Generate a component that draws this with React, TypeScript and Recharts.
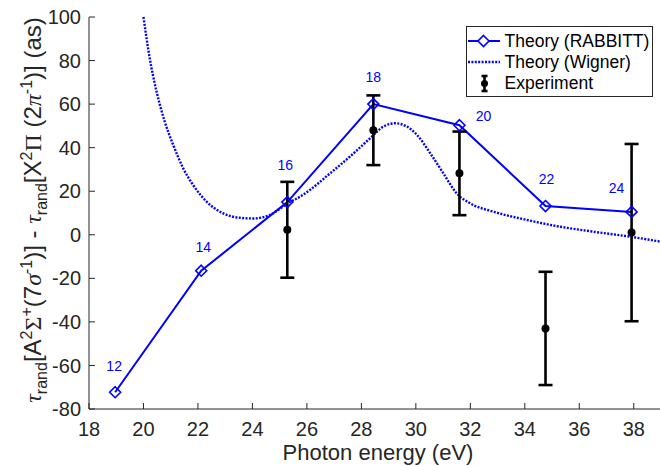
import React from "react";
import {
  ComposedChart,
  Line,
  Scatter,
  ErrorBar,
  XAxis,
  YAxis,
  Legend,
  LabelList,
} from "recharts";

// harmonic sidebands, photon energy in eV
const photonEnergy = [18.96, 22.12, 25.28, 28.44, 31.6, 34.76, 37.92];
const harmonicOrder = [12, 14, 16, 18, 20, 22, 24];
const rabbittDelay = [-72.3, -16.5, 15, 60, 50.3, 13.2, 10.5];

const expEnergy = [25.28, 28.44, 31.6, 34.76, 37.92];
const expDelay = [2.3, 48, 28.2, -43, 1];
const expError = [22, 16, 19.2, 26, 40.7];

const wignerEnergy = [
  20.0, 20.23, 20.48, 20.78, 21.09, 21.46, 21.82, 22.32, 22.93, 23.54, 24.03,
  24.64, 25.3, 25.75, 26.11, 26.85, 27.58, 28.32, 28.81, 29.24, 29.67, 30.04,
  30.53, 31.01, 31.5, 32.0, 32.85, 34.08, 35.3, 36.53, 37.88, 39.0,
];
const wignerDelay = [
  100, 81, 65.8, 52, 41.3, 30.5, 22.9, 15.2, 9.8, 7.8, 7.5, 9.1, 14.5, 17.5,
  20.6, 28.2, 35.9, 44.3, 49.7, 51.2, 49.7, 45.9, 37.4, 28.2, 19, 14.4, 10.6,
  6.8, 3.7, 1.4, -0.9, -3.2,
];

const xTicks = [18, 20, 22, 24, 26, 28, 30, 32, 34, 36, 38];
const yTicks = [-80, -60, -40, -20, 0, 20, 40, 60, 80, 100];

const seriesNames = ["Theory (RABBITT)", "Theory (Wigner)", "Experiment"];

// where each harmonic number sits relative to its marker
const labelShift = [
  [-1, -26],
  [2, -24],
  [-2, -37],
  [0, -27],
  [24, -9],
  [1, -27],
  [-15, -24],
];

const rabbitt = photonEnergy.map((x, i) => ({ x, y: rabbittDelay[i], h: harmonicOrder[i] }));
const experiment = expEnergy.map((x, i) => ({ x, y: expDelay[i], err: expError[i] }));
const wigner = wignerEnergy.map((x, i) => ({ x, y: wignerDelay[i] }));

const FONT = "'Liberation Sans', Arial, Helvetica, sans-serif";
const SERIF = "'Liberation Serif', 'DejaVu Serif', serif";
const AXIS = "#262626";
const BLUE = "#0000ff";

const Diamond = (props: any) => {
  const { cx, cy } = props;
  if (cx == null || cy == null) return null;
  const s = 5.5;
  return (
    <polygon
      key={`d-${cx}`}
      points={`${cx},${cy - s} ${cx + s},${cy} ${cx},${cy + s} ${cx - s},${cy}`}
      fill="none"
      stroke={BLUE}
      strokeWidth={1.6}
    />
  );
};

const HarmonicLabel = (props: any) => {
  const { x, y, index, value } = props;
  const [dx, dy] = labelShift[index] || [0, -25];
  return (
    <text
      x={x + dx}
      y={y + dy + 5}
      textAnchor="middle"
      fontSize={14}
      fontFamily={FONT}
      fill={BLUE}
    >
      {value}
    </text>
  );
};

const YTitle = () => {
  const sup = { fontSize: 16 };
  return (
    <text
      x={41}
      y={210}
      transform="rotate(-90 41 210)"
      textAnchor="middle"
      fontSize={24}
      fontFamily={FONT}
      fill={AXIS}
    >
      <tspan fontFamily={SERIF} fontStyle="italic">τ</tspan>
      <tspan {...sup} dy={6}>rand</tspan>
      <tspan dy={-6}>[A</tspan>
      <tspan {...sup} dy={-9}>2</tspan>
      <tspan fontFamily={SERIF} dy={9}>Σ</tspan>
      <tspan {...sup} dy={-9}>+</tspan>
      <tspan dy={9}>(7</tspan>
      <tspan fontFamily={SERIF} fontStyle="italic">σ</tspan>
      <tspan {...sup} dy={-9}>-1</tspan>
      <tspan dy={9}>)] - </tspan>
      <tspan fontFamily={SERIF} fontStyle="italic">τ</tspan>
      <tspan {...sup} dy={6}>rand</tspan>
      <tspan dy={-6}>[X</tspan>
      <tspan {...sup} dy={-9}>2</tspan>
      <tspan fontFamily={SERIF} dy={9}>Π</tspan>
      <tspan> (2</tspan>
      <tspan fontFamily={SERIF} fontStyle="italic">π</tspan>
      <tspan {...sup} dy={-9}>-1</tspan>
      <tspan dy={9}>)] (as)</tspan>
    </text>
  );
};

const LegendBox = () => (
  <svg width={188} height={72} style={{ display: "block" }}>
    <rect x={0.5} y={0.5} width={186} height={70} fill="#fff" stroke={AXIS} strokeWidth={1} />
    <g fontFamily={FONT} fontSize={17.5} fill="#000">
      <line x1={2} x2={34} y1={15} y2={15} stroke={BLUE} strokeWidth={2} />
      <polygon points="17.5,9.5 23,15 17.5,20.5 12,15" fill="#fff" stroke={BLUE} strokeWidth={1.6} />
      <text x={38.5} y={21}>{seriesNames[0]}</text>
      <line x1={2} x2={34} y1={36} y2={36} stroke={BLUE} strokeWidth={2.4} strokeDasharray="2 1.4" />
      <text x={38.5} y={42}>{seriesNames[1]}</text>
      <line x1={18.5} x2={18.5} y1={50} y2={65} stroke="#000" strokeWidth={2.6} />
      <line x1={15.5} x2={21.5} y1={50} y2={50} stroke="#000" strokeWidth={2.6} />
      <line x1={15.5} x2={21.5} y1={65} y2={65} stroke="#000" strokeWidth={2.6} />
      <circle cx={18.5} cy={57.5} r={3.5} fill="#000" />
      <text x={38.5} y={63}>{seriesNames[2]}</text>
    </g>
  </svg>
);

export default function App() {
  return (
    <div style={{ position: "absolute", left: 0, top: 0, background: "#fff" }}>
      <ComposedChart
        width={660}
        height={466}
        margin={{ top: 17, right: -1, bottom: 0, left: 0 }}
      >
        <XAxis
          dataKey="x"
          type="number"
          domain={[18, 39]}
          ticks={xTicks}
          height={57}
          stroke={AXIS}
          tickSize={-6}
          tickMargin={19}
          tick={{ fill: AXIS, fontSize: 20, fontFamily: FONT }}
          label={{
            value: "Photon energy (eV)",
            position: "insideBottom",
            offset: 6,
            fill: AXIS,
            fontSize: 22,
            fontFamily: FONT,
            dx: 3,
          }}
        />
        <XAxis
          xAxisId="top"
          orientation="top"
          type="number"
          domain={[18, 39]}
          ticks={xTicks}
          height={0}
          stroke={AXIS}
          tickSize={-6}
          tickFormatter={() => ""}
        />
        <YAxis
          dataKey="y"
          type="number"
          domain={[-80, 100]}
          ticks={yTicks}
          width={89}
          stroke={AXIS}
          tickSize={-6}
          tickMargin={14}
          tick={{ fill: AXIS, fontSize: 20, fontFamily: FONT }}
          label={<YTitle />}
        />
        <YAxis
          yAxisId="right"
          orientation="right"
          type="number"
          domain={[-80, 100]}
          ticks={yTicks}
          width={0}
          stroke={AXIS}
          tickSize={-6}
          tickFormatter={() => ""}
        />
        <Legend
          layout="horizontal"
          verticalAlign="middle"
          align="center"
          content={() => <LegendBox />}
          wrapperStyle={{ left: 466, top: 26, width: 188, height: 72 }}
        />
        <Line
          data={wigner}
          dataKey="y"
          type="monotone"
          stroke={BLUE}
          strokeWidth={2.4}
          strokeDasharray="2 1.4"
          dot={false}
          activeDot={false}
          isAnimationActive={false}
          name={seriesNames[1]}
        />
        <Line
          data={rabbitt}
          dataKey="y"
          type="linear"
          stroke={BLUE}
          strokeWidth={2}
          dot={<Diamond />}
          activeDot={false}
          isAnimationActive={false}
          name={seriesNames[0]}
        >
          <LabelList dataKey="h" content={<HarmonicLabel />} />
        </Line>
        <Scatter
          data={experiment}
          dataKey="y"
          isAnimationActive={false}
          name={seriesNames[2]}
          shape={(p: any) => <circle cx={p.cx} cy={p.cy} r={4} fill="#000" />}
        >
          <ErrorBar
            dataKey="err"
            direction="y"
            width={7}
            strokeWidth={2.6}
            stroke="#000"
            isAnimationActive={false}
          />
        </Scatter>
      </ComposedChart>
    </div>
  );
}
